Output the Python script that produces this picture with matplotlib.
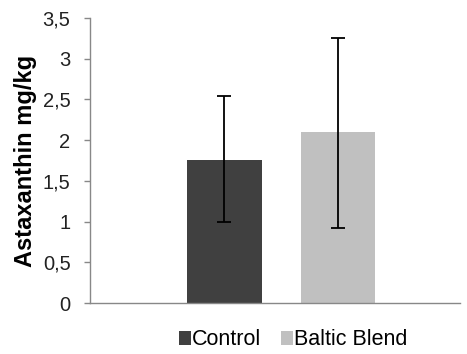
import matplotlib
matplotlib.use("Agg")
import matplotlib.pyplot as plt
from matplotlib.patches import Patch
from matplotlib.ticker import FuncFormatter

categories = ["Control", "Baltic Blend"]
values = [1.76, 2.10]
err_low = [0.77, 1.18]
err_high = [0.78, 1.15]
colors = ["#404040", "#c0c0c0"]
yticks = [0, 0.5, 1, 1.5, 2, 2.5, 3, 3.5]

plt.rcParams['font.family'] = ['Liberation Sans', 'DejaVu Sans']

fig = plt.figure(figsize=(4.67, 3.54), dpi=100)
ax = fig.add_axes([0.1927, 0.144, 0.7923, 0.805])

positions = [0.3635, 0.669]
widths = [0.204, 0.2]
for p, v, lo, hi, c, w, lab in zip(positions, values, err_low, err_high, colors, widths, categories):
    ax.bar(p, v, width=w, color=c, label=lab, zorder=2)
    ax.errorbar(p, v, yerr=[[lo], [hi]], fmt='none', ecolor='black', elinewidth=1.3,
                capsize=5, capthick=1.3, zorder=3)

ax.set_xlim(0, 1)
ax.set_ylim(0, 3.5)
ax.set_yticks(yticks)
ax.yaxis.set_major_formatter(FuncFormatter(lambda v, _: ('%g' % v).replace('.', ',')))
ax.set_xticks([])
for s in ['top', 'right']:
    ax.spines[s].set_visible(False)
for s in ['left', 'bottom']:
    ax.spines[s].set_color('#888888')
    ax.spines[s].set_linewidth(1.0)
ax.tick_params(axis='y', colors='#888888', labelcolor='#222222', labelsize=14.5,
               length=4, width=1, pad=10)
ax.set_ylabel("Astaxanthin mg/kg", fontsize=17, fontweight='bold', labelpad=4)

handles = [Patch(facecolor=c, label=l) for c, l in zip(colors, categories)]
fig.legend(handles=handles, loc='center', bbox_to_anchor=(0.628, 0.04), ncol=2,
           frameon=False, fontsize=15.5, handlelength=0.55, handleheight=0.65,
           handletextpad=0.05, columnspacing=0.9)

fig.savefig("out.png", dpi=100)
